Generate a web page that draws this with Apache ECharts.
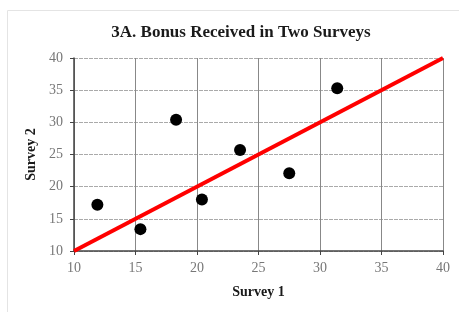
<!DOCTYPE html>
<html>
<head>
<meta charset="utf-8">
<script src="https://cdn.jsdelivr.net/npm/echarts@6/dist/echarts.min.js"></script>
<style>
  html, body { margin: 0; padding: 0; background: #fff; }
  #main { width: 459px; height: 312px; }
</style>
</head>
<body>
<div id="main"></div>
<script>
// survey values
var survey1 = [11.9, 15.4, 18.3, 20.4, 23.5, 27.5, 31.4];
var survey2 = [17.2, 13.4, 30.4, 18.0, 25.7, 22.1, 35.3];
var lineX = [10, 40];
var lineY = [10, 40];

var points = survey1.map(function (x, i) { return [x, survey2[i]]; });
var linePts = lineX.map(function (x, i) { return [x, lineY[i]]; });

var font = '"Liberation Serif", "DejaVu Serif", serif';
var chart = echarts.init(document.getElementById('main'));

chart.setOption({
  animation: false,
  textStyle: { fontFamily: font },
  title: {
    text: '3A. Bonus Received in Two Surveys',
    left: 236,
    top: 19,
    textAlign: 'center',
    textStyle: { fontFamily: font, fontSize: 17, fontWeight: 'bold', color: '#1a1a1a' }
  },
  graphic: [{
    type: 'rect',
    shape: { x: 7.5, y: 10.5, width: 470, height: 320 },
    style: { fill: 'none', stroke: '#e4e4e4', lineWidth: 1 },
    silent: true
  }],
  grid: { left: 74, right: 16, top: 58, bottom: 61 },
  xAxis: {
    type: 'value', min: 10, max: 40, interval: 5,
    name: 'Survey 1', nameLocation: 'middle', nameGap: 34,
    nameTextStyle: { fontFamily: font, fontSize: 14, fontWeight: 'bold', color: '#1a1a1a' },
    axisLine: { lineStyle: { color: '#444', width: 1.5 } },
    axisTick: { show: true, length: 4, lineStyle: { color: '#444' } },
    axisLabel: { color: '#777', fontSize: 14, fontFamily: font, margin: 10 },
    splitLine: { lineStyle: { color: '#888', width: 1 } }
  },
  yAxis: {
    type: 'value', min: 10, max: 40, interval: 5,
    name: 'Survey 2', nameLocation: 'middle', nameGap: 33,
    nameTextStyle: { fontFamily: font, fontSize: 14, fontWeight: 'bold', color: '#1a1a1a' },
    axisLine: { show: true, lineStyle: { color: '#444', width: 1.5 } },
    axisTick: { show: true, length: 4, lineStyle: { color: '#444' } },
    axisLabel: { color: '#777', fontSize: 14, fontFamily: font, margin: 11 },
    splitLine: { lineStyle: { color: '#aaa', width: 1, type: [4, 1] } }
  },
  series: [{
    type: 'line',
    data: linePts,
    symbol: 'none',
    lineStyle: { color: '#ff0000', width: 4 },
    z: 3
  }, {
    type: 'scatter',
    data: points,
    symbol: 'circle',
    symbolSize: 12,
    itemStyle: { color: '#000', opacity: 1 },
    z: 4
  }]
});
</script>
</body>
</html>
